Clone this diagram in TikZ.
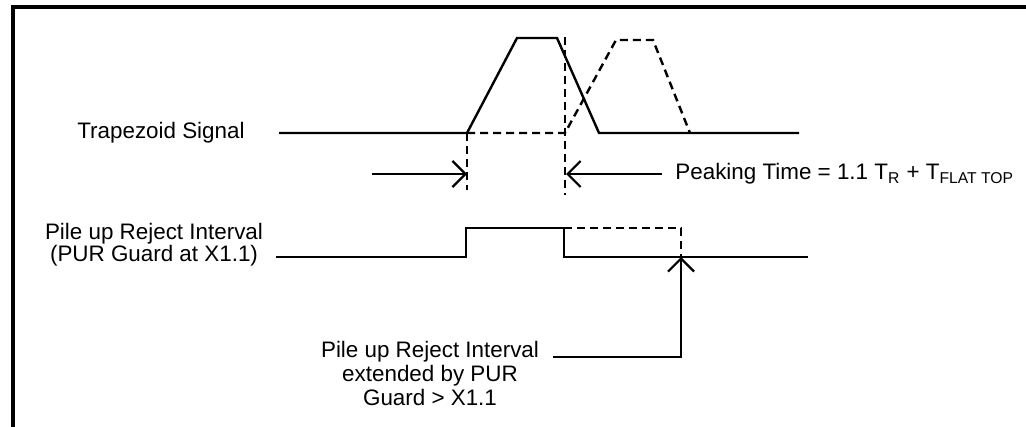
\documentclass[tikz,border=0pt]{standalone}
\usepackage{fontspec}
\setmainfont{Liberation Sans}
\usetikzlibrary{arrows.meta,positioning}

\begin{document}
\begin{tikzpicture}[
  x=0.5pt,y=-0.5pt,
  frame/.style={line width=1.6pt},
  wave/.style={line width=1.2pt},
  ghost/.style={wave,dash pattern=on 4pt off 2.5pt},
  guide/.style={line width=1.1pt,dash pattern=on 4pt off 2.5pt},
  lbl/.style={inner sep=0pt,align=center,font=\fontsize{11.2}{11.2}\selectfont},
  arrow/.style={line width=1.1pt,-{Straight Barb[length=6.5pt,width=13pt]}}
]
  \useasboundingbox (0,0) rectangle (1026,427);
  \draw[frame] (13,427) -- (13,7) -- (1026,7);

  % trapezoid signal
  \coordinate (trA) at (279,133);
  \coordinate (trB) at (467,133);
  \coordinate (trC) at (517,38);
  \coordinate (trD) at (557,38);
  \coordinate (trE) at (599,133);
  \coordinate (trF) at (799,133);
  \coordinate (gsA) at (565,133);
  \coordinate (gsB) at (616,40);
  \coordinate (gsC) at (653,40);
  \coordinate (gsD) at (690,133);
  \node[lbl,left=17pt of trA] (sigLbl) {Trapezoid Signal};
  \draw[wave] (trA) -- (trB) -- (trC) -- (trD) -- (trE) -- (trF);
  \draw[ghost] (trB) -- (gsA) -- (gsB) -- (gsC) -- (gsD);

  % peaking time
  \coordinate (gdA) at (467,190);
  \coordinate (gdB) at (565,37);
  \coordinate (gdC) at (565,195);
  \draw[guide] (trB) -- (gdA);
  \draw[guide] (gdB) -- (gdC);
  \coordinate (pkA) at (372,174);
  \coordinate (pkT) at (467,174);
  \coordinate (pkB) at (662,174);
  \coordinate (pkU) at (566,174);
  \draw[arrow] (pkA) -- (pkT);
  \draw[arrow] (pkB) -- (pkU);
  \node[lbl,right=6.5pt of pkB] (pkLbl) {Peaking Time = 1.1 T\textsubscript{R} + T\textsubscript{FLAT TOP}};

  % pile up reject
  \coordinate (purA) at (276,257);
  \coordinate (purB) at (466,257);
  \coordinate (purC) at (466,228);
  \coordinate (purD) at (564,228);
  \coordinate (purE) at (564,257);
  \coordinate (purF) at (808,257);
  \coordinate (purG) at (681,228);
  \coordinate (purH) at (681,257);
  \node[lbl] (purLbl) at (154,245) {Pile up Reject Interval\\(PUR Guard at X1.1)};
  \draw[wave] (purA) -- (purB) -- (purC) -- (purD) -- (purE) -- (purF);
  \draw[ghost] (purD) -- (purG) -- (purH);

  % extended interval
  \coordinate (extA) at (553,357);
  \coordinate (extB) at (681,357);
  \node[lbl,font=\fontsize{11.2}{12}\selectfont] (extLbl) at (430,373) {Pile up Reject Interval\\extended by PUR\\Guard > X1.1};
  \draw[arrow] (extA) -- (extB) -- (purH);
\end{tikzpicture}
\end{document}
